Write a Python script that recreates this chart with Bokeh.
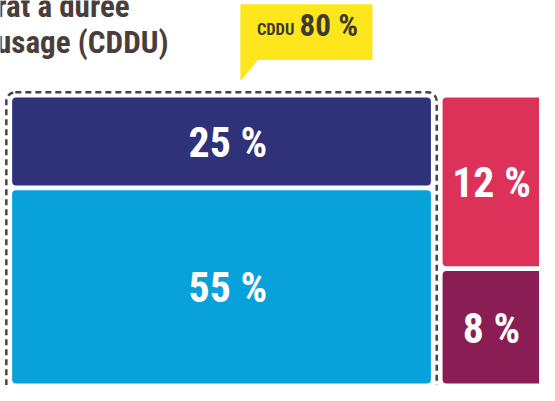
from bokeh.plotting import figure
from bokeh.models import Range1d, ColumnDataSource
from bokeh.core.properties import value
from bokeh.embed import file_html
from bokeh.resources import INLINE

# ---- data ----
segments = ["CDDU A", "CDDU B", "Autre A", "Autre B"]
shares = [25, 55, 12, 8]
groups = ["CDDU", "CDDU", "Autre", "Autre"]
colors = ["#2f3179", "#08a1d9", "#dc325a", "#8a1d54"]
callout_label = "CDDU"
title_lines = ["Contrat à durée", "déterminée d'usage (CDDU)"]

# ---- layout constants (reference pixel space, figure scaled to fit) ----
X0, X1, Y0, Y1 = 12, 563, 101, 399
HGAP, VGAP = 12, 5
DARK = "#3d3a35"
FONT = value("Roboto Condensed")
S = 539 / 555  # screen px per reference px

def fs(px):
    return f"{px * S:.1f}px"

p = figure(width=539, height=385, output_backend="svg", toolbar_location=None,
           x_range=Range1d(0, 555), y_range=Range1d(401, 0),
           x_axis_type=None, y_axis_type=None, min_border=0)
p.outline_line_color = None
p.grid.visible = False
p.background_fill_color = "white"
p.border_fill_color = "white"

# treemap geometry derived from the values
total = sum(shares)
cddu_total = sum(s for s, g in zip(shares, groups) if g == "CDDU")
other_total = total - cddu_total
avail_w = X1 - X0 - HGAP
left_w = avail_w * cddu_total / total
avail_h = Y1 - Y0 - VGAP

L, R, T, B, cx, cy = [], [], [], [], [], []
yl, yr = Y0, Y0
for s, g in zip(shares, groups):
    if g == "CDDU":
        h = avail_h * s / cddu_total
        l, r, t = X0, X0 + left_w, yl
        yl += h + VGAP
        off = 6.5
    else:
        h = avail_h * s / other_total
        l, r, t = X0 + left_w + HGAP, X1, yr
        yr += h + VGAP
        off = -3.5
    L.append(l); R.append(r); T.append(t); B.append(t + h)
    cx.append((l + r) / 2 + off); cy.append(t + h / 2 + 1)

src = ColumnDataSource(dict(left=L, right=R, top=T, bottom=B, color=colors,
                            x=cx, y=cy, text=[f"{s} %" for s in shares]))
p.quad(left="left", right="right", top="top", bottom="bottom", source=src,
       fill_color="color", line_color=None, border_radius=4)
p.text(x="x", y="y", text="text", source=src, text_color="white",
       text_font=FONT, text_font_style="bold", text_font_size=fs(43),
       text_align="center", text_baseline="middle")

# dashed rounded frame around the CDDU group
p.quad(left=[6], right=[X0 + left_w + HGAP / 2], top=[95.5], bottom=[420],
       fill_color=None, line_color="#45443f", line_width=2.5,
       line_dash="6 4", border_radius=9)

# yellow callout
p.patch(x=[247, 383, 383, 265, 248, 247], y=[4, 4, 62, 62, 83, 83],
        fill_color="#fde71c", line_color=None)
p.text(x=[264], y=[30.5], text=[callout_label], text_color=DARK, text_font=FONT,
       text_font_style="bold", text_font_size=fs(17), text_baseline="middle")
p.text(x=[308], y=[26.5], text=[f"{cddu_total} %"], text_color=DARK, text_font=FONT,
       text_font_style="bold", text_font_size=fs(32), text_baseline="middle")

# title, cut at the left edge as in the reference
p.text(x=[133, 173], y=[6, 44], text=title_lines, text_color="#4a3e3b",
       text_font=FONT, text_font_style="bold", text_font_size=fs(32),
       text_align="right", text_baseline="middle")

open("out.html", "w").write(file_html(p, INLINE))
